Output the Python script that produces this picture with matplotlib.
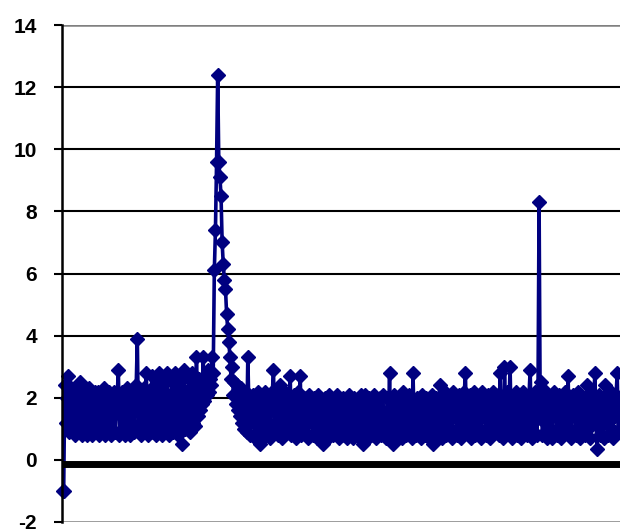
import matplotlib.pyplot as plt
import numpy as np

# series values, left to right
vals_start = [
    -1.0, -1.0, 2.4, 1.2, 2.0, 2.7, 0.9, 1.8, 2.3, 1.0,
    2.1, 0.8, 1.6, 2.2, 1.1, 1.9, 2.5, 0.8, 1.5, 2.2,
    1.0, 2.0, 0.8, 1.7, 2.3, 1.2, 0.8, 2.1, 1.4, 2.2,
    0.9, 1.8, 2.2, 0.8, 1.3, 2.1, 1.0, 2.3, 0.8, 1.6,
    2.0, 1.1, 2.2, 0.8, 1.9, 1.4, 2.2, 0.9, 1.7, 2.1,
    2.9, 0.8, 1.5, 2.2, 1.0, 2.0, 0.8, 1.8, 2.3, 1.2,
    0.8, 2.1, 1.5, 2.2, 0.9, 1.7, 2.4, 3.9, 1.1, 2.2,
    0.8, 2.0, 1.3, 2.3, 0.9, 2.8, 1.6, 0.8, 2.2, 1.2,
    2.7, 0.9, 1.8, 2.4, 0.8, 1.5, 2.8, 1.1, 2.2, 0.8,
    1.9, 2.6, 1.0, 1.6, 2.8, 0.8, 2.1, 1.3, 2.5, 0.9,
    1.8, 2.8, 1.2, 0.8, 2.3, 1.5, 2.7, 0.5, 1.9, 2.9,
    1.0, 2.2, 1.4, 2.6, 0.9, 2.0, 2.8, 1.2, 2.3, 1.1,
    3.3, 1.4, 2.6, 1.6, 2.4, 1.8, 3.3, 1.9, 2.7, 2.1,
    2.9, 2.2, 2.6, 2.4, 3.3, 2.8,
]
vals_peak = [
    6.1, 7.4, 9.6, 12.4, 9.6, 9.1, 8.5, 7.0, 6.3, 5.8,
    5.5, 4.7, 4.2, 3.8, 3.3, 2.6, 3.0, 2.1, 2.5,
]
vals_rest = [
    1.8, 2.4, 1.6, 2.2, 1.4,
    2.3, 1.2, 2.0, 1.0, 2.2, 0.9, 3.3, 1.7, 0.8, 2.0,
    1.3, 2.1, 0.7, 1.8, 1.1, 2.2, 0.9, 0.5, 1.6, 2.0,
    1.0, 2.2, 0.8, 1.5, 2.0, 1.2, 0.7, 1.9, 2.2, 2.9,
    1.0, 1.6, 2.1, 0.8, 1.4, 2.4, 1.1, 0.7, 1.9, 2.2,
    0.9, 1.5, 2.0, 1.2, 2.7, 0.8, 1.8, 2.1, 1.0, 0.7,
    1.7, 2.2, 1.3, 2.7, 0.8, 1.5, 2.0, 0.9, 1.9, 1.2,
    0.7, 2.1, 1.4, 1.8, 0.8, 2.0, 1.1, 1.6, 0.7, 2.1,
    1.3, 1.9, 0.8, 0.5, 1.7, 2.0, 1.0, 1.5, 0.7, 2.1,
    1.2, 1.8, 0.8, 1.6, 2.0, 0.9, 2.1, 1.4, 0.7, 1.9,
    1.1, 2.0, 0.8, 1.5, 1.9, 0.7, 1.3, 2.1, 1.0, 1.7,
    0.7, 2.0, 1.2, 1.6, 0.8, 1.9, 1.1, 2.1, 0.9, 0.5,
    1.8, 2.1, 1.0, 1.5, 0.7, 2.0, 1.3, 1.8, 0.8, 2.1,
    1.2, 0.7, 1.9, 1.5, 2.0, 0.8, 1.6, 2.1, 1.0, 1.4,
    0.7, 2.0, 1.2, 2.8, 0.9, 1.7, 0.5, 2.1, 1.3, 1.8,
    0.8, 2.0, 1.1, 1.6, 0.7, 2.2, 1.4, 1.9, 0.8, 1.5,
    2.1, 1.0, 1.7, 0.7, 2.8, 1.3, 1.9, 0.8, 2.0, 1.1,
    1.6, 0.7, 2.1, 1.4, 1.8, 0.8, 2.0, 1.2, 0.7, 1.9,
    1.5, 2.1, 0.5, 1.7, 1.0, 2.0, 0.8, 1.6, 2.4, 1.1,
    0.7, 1.9, 1.3, 2.2, 0.8, 1.5, 2.0, 1.0, 1.8, 0.7,
    2.2, 1.4, 1.9, 0.8, 1.6, 2.1, 1.1, 0.7, 2.0, 1.5,
    2.2, 2.8, 0.9, 1.7, 1.3, 2.1, 0.7, 1.9, 1.2, 2.2,
    0.8, 1.6, 2.0, 1.0, 1.8, 0.7, 2.2, 1.4, 1.9, 0.8,
    1.5, 2.1, 1.1, 0.7, 2.0, 1.6, 2.2, 0.9, 1.8, 1.3,
    2.1, 0.8, 2.8, 1.2, 1.9, 0.7, 3.0, 1.5, 2.2, 0.9,
    1.7, 3.0, 1.1, 0.7, 2.0, 1.4, 2.2, 0.8, 1.8, 1.2,
    2.1, 0.7, 1.6, 2.2, 1.0, 1.9, 0.8, 1.5, 2.1, 2.9,
    1.1, 0.7, 1.8, 2.2, 1.3, 0.8, 2.0, 8.3, 1.5, 2.5,
    0.8, 1.9, 1.2, 2.2, 0.7, 1.6, 2.0, 1.0, 1.8, 0.7,
    2.2, 1.4, 1.9, 0.8, 1.5, 2.1, 1.1, 0.7, 2.0, 1.6,
    2.2, 0.9, 1.3, 2.7, 1.0, 1.8, 0.7, 2.1, 1.4, 1.9,
    0.8, 1.6, 2.2, 1.1, 0.7, 2.0, 1.5, 1.9, 0.8, 1.3,
    2.4, 1.0, 1.8, 0.7, 2.1, 1.4, 2.0, 2.8, 1.2, 0.35,
    1.6, 2.1, 0.8, 1.9, 1.2, 0.7, 2.4, 1.5, 2.0, 0.8,
    1.7, 2.2, 1.0, 0.7, 1.9, 1.4, 2.1, 2.8, 0.9, 1.8,
]
values = vals_start + vals_peak + vals_rest
y_ticks = [-2, 0, 2, 4, 6, 8, 10, 12, 14]

plt.rcParams["font.family"] = ["Liberation Sans", "DejaVu Sans"]

fig = plt.figure(figsize=(6.2, 5.32), dpi=100)
ax = fig.add_axes([0.1, 0.0188, 0.9, 0.934])

x = np.arange(len(values))
ax.plot(x, values, color="#000080", linewidth=2.6, marker="D", markersize=7.2, clip_on=False, zorder=2)

# grid and borders
for level in y_ticks[2:-1]:
    ax.axhline(level, color="black", linewidth=1.5, zorder=1)
ax.axhline(14, color="#808080", linewidth=1.8, zorder=1)
ax.axhline(-2, color="#808080", linewidth=1.8, zorder=1)
ax.axhline(-0.14, color="black", linewidth=5, zorder=3)

ax.set_xlim(-0.5, len(values) - 0.5)
ax.set_ylim(-2, 14)
ax.set_yticks(y_ticks)
ax.set_yticklabels([str(t) for t in y_ticks], fontsize=15, fontweight="bold")
ax.tick_params(axis="y", direction="out", length=6, width=1.5, pad=12)
ax.set_xticks([])
for side in ["top", "right", "bottom"]:
    ax.spines[side].set_visible(False)
ax.spines["left"].set_linewidth(1.8)
ax.spines["left"].set_zorder(4)

plt.gcf().set_facecolor("white")
plt.savefig("out.png", dpi=100)
plt.close()
